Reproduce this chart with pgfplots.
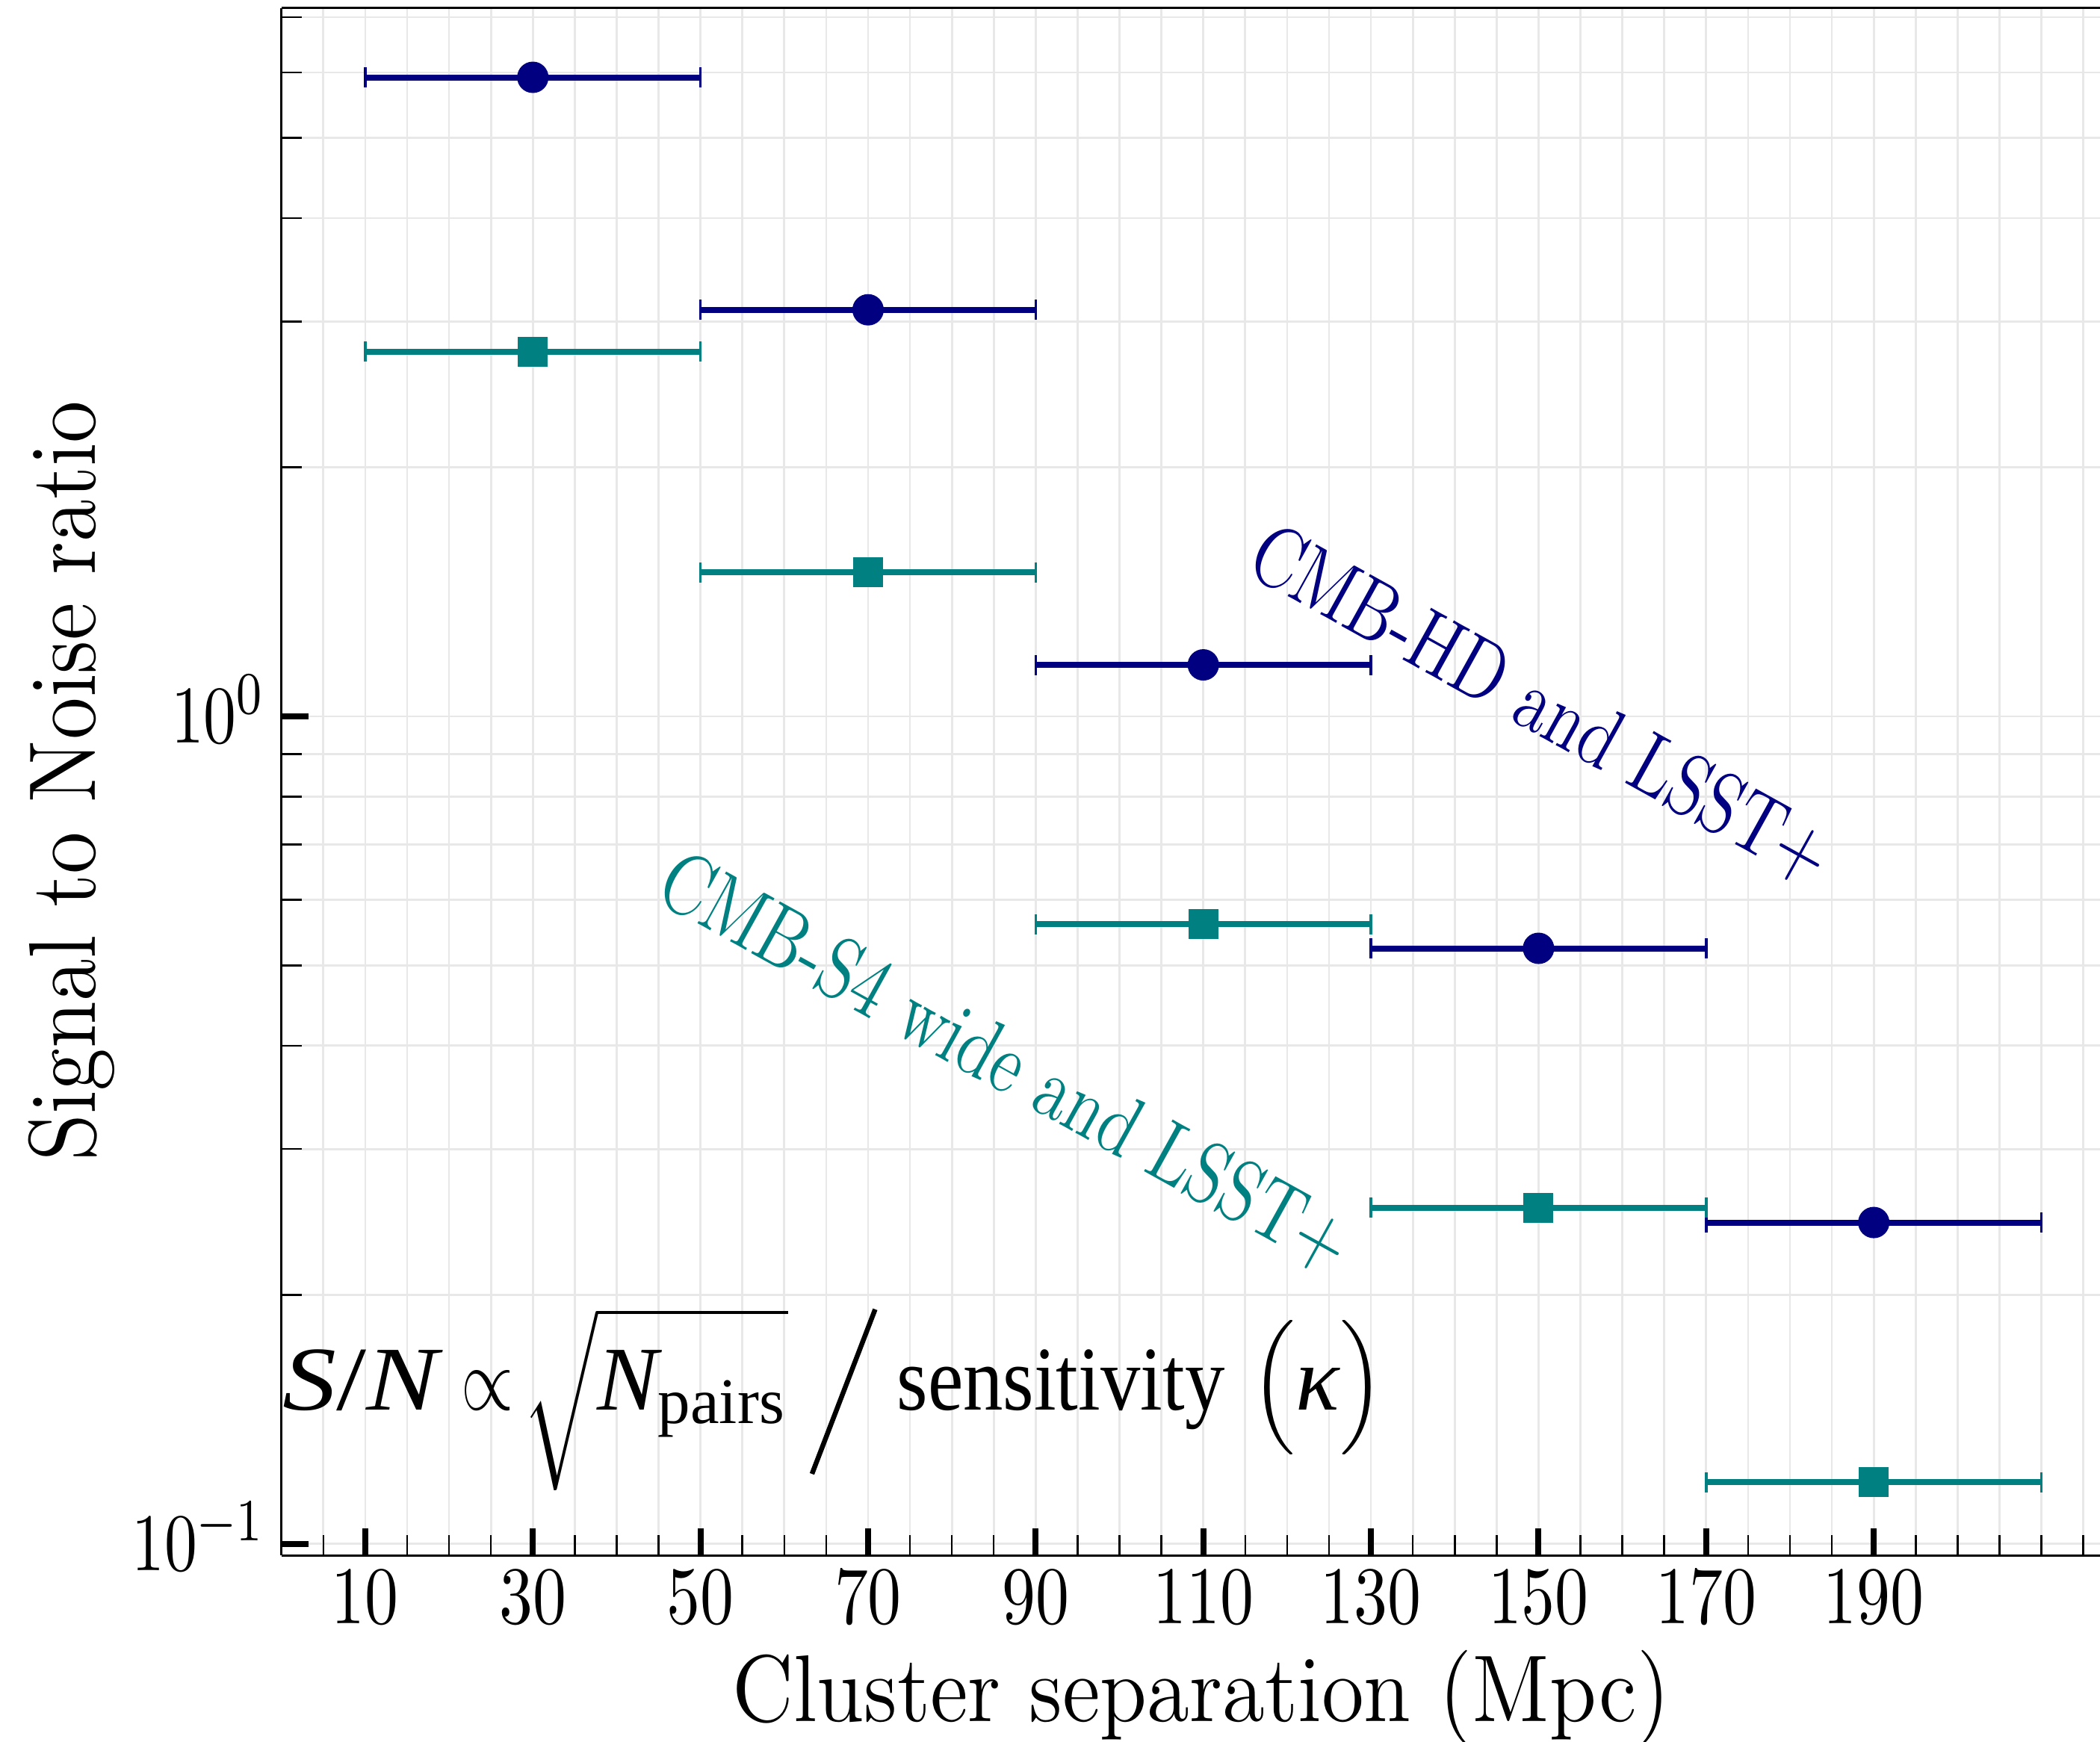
\documentclass[border=0pt]{standalone}
\usepackage{fontspec}
\usepackage{graphicx}
\usepackage{pgfplots}
\pgfplotsset{compat=1.18}
\usetikzlibrary{calc}
\newfontfamily\tms{Liberation Serif}
\definecolor{hdnavy}{HTML}{000080}
\definecolor{sfteal}{HTML}{008080}
\definecolor{gridc}{HTML}{E8E8E8}

\begin{document}
\begin{tikzpicture}
\begin{axis}[
  scale only axis,
  width=243.43pt, height=207.16pt,
  xmin=0, xmax=217,
  ymode=log, ymin=0.0968, ymax=7.18,
  axis x line=box, axis y line*=left,
  axis line style={line width=0.35pt, black},
  xtick={10,30,...,190},
  minor xtick={0,5,...,215},
  ytick={0.1,1},
  yticklabels={\scalebox{0.8}[1]{$10^{-1}$},\scalebox{0.8}[1]{$10^{0}$}},
  minor ytick={0.2,0.3,0.4,0.5,0.6,0.7,0.8,0.9,2,3,4,5,6,7},
  xtick pos=lower, ytick pos=left,
  tick align=inside,
  major tick length=3.6pt, minor tick length=2.7pt,
  major tick style={line width=0.8pt, black},
  minor tick style={line width=0.25pt, black},
  xmajorgrids, xminorgrids, ymajorgrids, yminorgrids,
  major grid style={line width=0.27pt, gridc},
  minor grid style={line width=0.27pt, gridc},
  xticklabel={\scalebox{0.82}[1]{$\pgfmathprintnumber{\tick}$}},
  xticklabel style={font=\fontsize{11.2}{13}\selectfont, anchor=north, inner sep=0pt, yshift=-1.9pt},
  yticklabel style={font=\fontsize{11.2}{13}\selectfont, anchor=base east, inner sep=0pt, xshift=-2pt, yshift=-3.6pt},
  clip=false,
]
\addplot[only marks, mark=*, mark size=1.9pt, hdnavy,
  error bars/.cd, x dir=both, x fixed=20,
  error bar style={line width=0.8pt, hdnavy},
  error mark options={rotate=90, mark size=1.35pt, line width=0.35pt, hdnavy}]
  coordinates {(30,5.92) (70,3.10) (110,1.154) (150,0.5244) (190,0.2445)};
\addplot[only marks, mark=square*, mark size=1.8pt, sfteal,
  error bars/.cd, x dir=both, x fixed=20,
  error bar style={line width=0.8pt, sfteal},
  error mark options={rotate=90, mark size=1.35pt, line width=0.35pt, sfteal}]
  coordinates {(30,2.759) (70,1.493) (110,0.5608) (150,0.2547) (190,0.1187)};

\node[rotate=-29, text=hdnavy, inner sep=0pt, font=\fontsize{11.6}{13}\selectfont] at (axis cs:150.3,1.03) {\scalebox{0.79}[1]{CMB-HD and LSST+}};
\node[rotate=-29, text=sfteal, inner sep=0pt, font=\fontsize{11.6}{13}\selectfont] at (axis cs:86.4,0.381) {\scalebox{0.79}[1]{CMB-S4 wide and LSST+}};
\node[anchor=base west, inner sep=0pt, font=\tms\fontsize{12.2}{14}\selectfont] at (axis cs:0,0.145) {\scalebox{1.18}[1]{\textit{S}/\textit{N}}\hspace{2.4pt}\scalebox{0.75}[1]{$\propto$}\hspace{1.2pt}$\sqrt{\rule[-8pt]{0pt}{17.6pt}\textit{N}_{\mbox{\fontsize{8.7}{9}\selectfont pairs}}}$\hspace{2.9pt}\raisebox{-8.4pt}{\rotatebox{-21}{\rule{0.65pt}{23.6pt}}}\hspace{2.6pt}\scalebox{0.875}[1]{sensitivity}\hspace{3.5pt}$\Big(\mbox{\textit{κ}}\Big)$};
\end{axis}
\node[rotate=90, anchor=base, inner sep=0pt, font=\fontsize{12.7}{15}\selectfont] at ($(current axis.west)+(-24.87pt,0.1pt)$) {\scalebox{0.912}[1]{Signal to Noise ratio}};
\node[anchor=base, inner sep=0pt, font=\fontsize{12.7}{15}\selectfont] at ($(current axis.south)+(1.4pt,-22.17pt)$) {\scalebox{0.912}[1]{Cluster separation (Mpc)}};
\pgfresetboundingbox
\path[use as bounding box] ($(current axis.south west)+(-37.67pt,-24.87pt)$) rectangle ($(current axis.north east)+(0pt,1.07pt)$);
\end{tikzpicture}
\end{document}
